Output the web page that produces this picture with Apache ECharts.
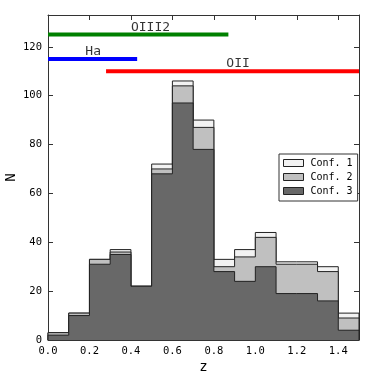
<!DOCTYPE html>
<html><head><meta charset="utf-8">
<script src="https://cdn.jsdelivr.net/npm/echarts@6/dist/echarts.min.js"></script>
<style>html,body{margin:0;padding:0;background:#fff}#c{width:374px;height:374px}</style>
</head><body><div id="c"></div>
<script>
const binEdges = [0.0,0.1,0.2,0.3,0.4,0.5,0.6,0.7,0.8,0.9,1.0,1.1,1.2,1.3,1.4,1.5];
const conf3 = [2,10,31,35,22,68,97,78,28,24,30,19,19,16,4];
const conf2 = [1,1,2,1,0,2,7,9,2,10,12,12,12,12,5];
const conf1 = [0,0,0,1,0,2,2,3,3,3,2,1,1,2,2];
const seriesNames = ['Conf. 1','Conf. 2','Conf. 3'];
const xTicks = [0.0,0.2,0.4,0.6,0.8,1.0,1.2,1.4];
const yTicks = [0,20,40,60,80,100,120];
const lineNames = ['OIII2','Ha','OII'];
const lineLevels = [125,115,110];
const lineStarts = [0,0,0.28];
const lineEnds = [0.87,0.43,1.5];
const labelX = [0.40,0.18,0.86];
const labelY = [128,118.2,113];

const FONT = 'DejaVu Sans Mono';
const fills = ['#f2f2f2','#c0c0c0','#686868'];
const lineColors = ['#008000','#0000ff','#ff0000'];

const cum3 = conf3.slice();
const cum2 = conf3.map((v,i)=>v+conf2[i]);
const cum1 = cum2.map((v,i)=>v+conf1[i]);

function stepData(vals){
  const n = vals.length;
  const d = [[binEdges[0],0]];
  vals.forEach((v,i)=>d.push([binEdges[i],v]));
  d.push([binEdges[n],vals[n-1]]);
  d.push([binEdges[n],0]);
  return d;
}
const stacks = [cum1,cum2,cum3];

const series = [];
stacks.forEach((vals,k)=>{
  series.push({
    type:'line', name:seriesNames[k], step:'end', data:stepData(vals),
    showSymbol:false, symbol:'none', z:2+k, silent:true, animation:false,
    itemStyle:{color:fills[k]},
    lineStyle:{color:'#222',width:1},
    areaStyle:{color:fills[k],opacity:1}
  });
});
lineNames.forEach((nm,k)=>{
  series.push({
    type:'line', name:nm+'_line', data:[[lineStarts[k],lineLevels[k]],[lineEnds[k],lineLevels[k]]],
    showSymbol:false, symbol:'none', z:10, silent:true, animation:false,
    lineStyle:{color:lineColors[k],width:4,cap:'butt'}
  });
});
series.push({
  type:'scatter', symbolSize:0, z:11, silent:true, animation:false,
  data: lineNames.map((nm,k)=>({name:nm, value:[labelX[k],labelY[k]]})),
  label:{show:true, formatter:'{b}', position:[0,0], align:'left', verticalAlign:'middle',
         fontFamily:FONT, fontSize:13, color:'#000'}
});

const axisLineStyle = {color:'#333',width:1};
const option = {
  animation:false,
  backgroundColor:'#fff',
  grid:{left:48,right:15,top:15,bottom:34,containLabel:false,outerBoundsMode:'none'},
  xAxis:[
    {type:'value',min:0,max:1.5,position:'bottom',
     axisLine:{show:true,onZero:false,lineStyle:axisLineStyle},
     axisTick:{show:true,inside:true,length:5,customValues:xTicks,lineStyle:axisLineStyle},
     axisLabel:{show:true,customValues:xTicks,margin:6,fontFamily:FONT,fontSize:10.5,color:'#000',
                formatter:v=>v.toFixed(1)},
     splitLine:{show:false},
     name:'z',nameLocation:'middle',nameGap:20,nameMoveOverlap:false,
     nameTextStyle:{fontFamily:FONT,fontSize:14,color:'#000'}},
    {type:'value',min:0,max:1.5,position:'top',
     axisLine:{show:true,onZero:false,lineStyle:axisLineStyle},
     axisTick:{show:true,inside:true,length:5,customValues:xTicks,lineStyle:axisLineStyle},
     axisLabel:{show:false},splitLine:{show:false}}
  ],
  yAxis:[
    {type:'value',min:0,max:133,position:'left',
     axisLine:{show:true,onZero:false,lineStyle:axisLineStyle},
     axisTick:{show:true,inside:true,length:5,customValues:yTicks,lineStyle:axisLineStyle},
     axisLabel:{show:true,customValues:yTicks,margin:6,fontFamily:FONT,fontSize:10.5,color:'#000'},
     splitLine:{show:false},
     name:'N',nameLocation:'middle',nameGap:30,nameMoveOverlap:false,
     nameTextStyle:{fontFamily:FONT,fontSize:14,color:'#000'}},
    {type:'value',min:0,max:133,position:'right',
     axisLine:{show:true,onZero:false,lineStyle:axisLineStyle},
     axisTick:{show:true,inside:true,length:5,customValues:yTicks,lineStyle:axisLineStyle},
     axisLabel:{show:false},splitLine:{show:false}}
  ],
  legend:{
    orient:'vertical', left:279, top:154, padding:[3,5,4,4],
    backgroundColor:'#fff', borderColor:'#333', borderWidth:1, borderRadius:0,
    itemWidth:20, itemHeight:7, itemGap:2,
    textStyle:{fontFamily:FONT,fontSize:10,color:'#000',lineHeight:12,padding:[0,0,0,2]},
    data: seriesNames.map((nm,k)=>({name:nm, icon:'rect',
      itemStyle:{color:fills[k],borderColor:'#222',borderWidth:1}}))
  },
  series
};
const chart = echarts.init(document.getElementById('c'),null,{renderer:'canvas'});
chart.setOption(option);
</script></body></html>
